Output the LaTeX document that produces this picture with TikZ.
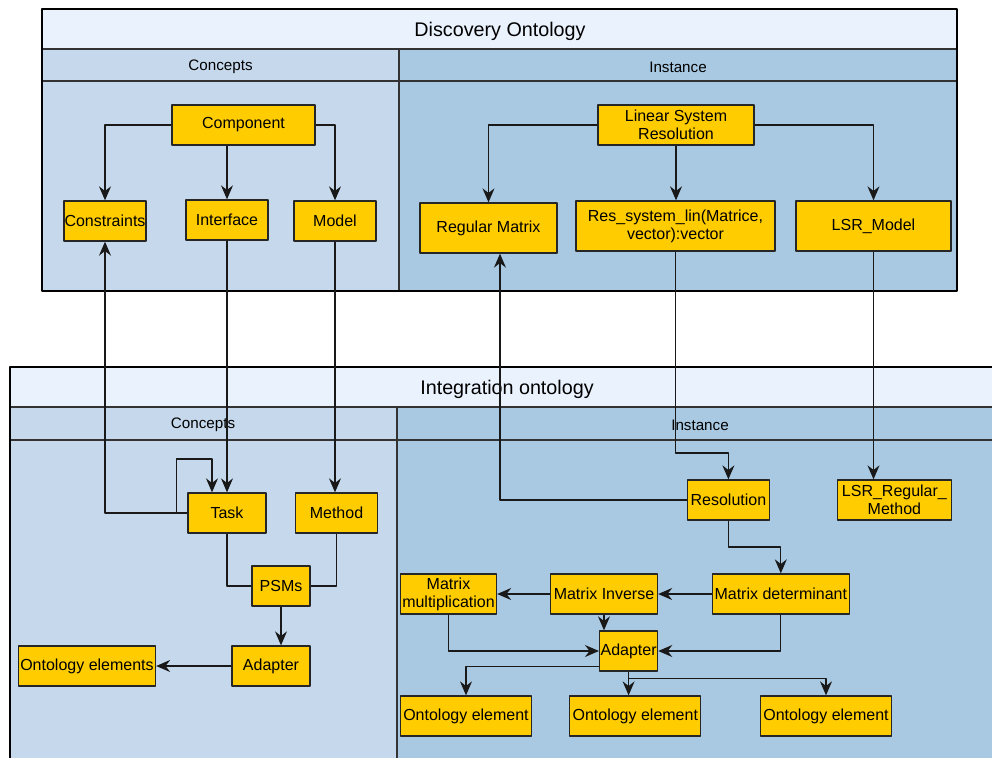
\documentclass[tikz,border=0pt]{standalone}
\usepackage{fontspec}
\setmainfont{Liberation Sans}
\usetikzlibrary{arrows.meta}
\definecolor{titlebg}{HTML}{EAF2FD}
\definecolor{conceptbg}{HTML}{C5D8EC}
\definecolor{instancebg}{HTML}{A9C8E2}
\definecolor{boxfill}{HTML}{FFCC00}
\begin{document}
\begin{tikzpicture}[x=0.75pt,y=-0.75pt, line join=round,
	box/.style={draw=black!85, fill=boxfill, line width=1pt, inner sep=0pt, align=center,
		font=\fontsize{12}{13.5}\selectfont, minimum height=30pt},
	wd/.style={minimum width=#1*0.75pt},
	ht/.style={minimum height=#1*0.75pt},
	link/.style={draw=black!90, line width=0.9pt, -{Stealth[length=10.5pt,width=9pt,inset=3.5pt]}},
	plain/.style={draw=black!90, line width=0.9pt},
	frame/.style={draw=black, line width=1.5pt},
	sep/.style={draw=black!80, line width=1pt},
	head/.style={font=\fontsize{11.4}{13}\selectfont},
	title/.style={font=\fontsize{14.8}{16}\selectfont}]
	\clip (0,0) rectangle (992,757);
	% discovery ontology
	\fill[titlebg] (42,9) rectangle (957,49);
	\fill[conceptbg] (42,49) rectangle (399,291);
	\fill[instancebg] (399,49) rectangle (957,291);
	\draw[sep] (42,49)--(957,49) (42,81)--(957,81) (399,49)--(399,291);
	\draw[frame] (42,9) rectangle (957,291);
	\node[title] (dtitle) at (500,31) {Discovery Ontology};
	\node[head] (dconc) at (220.5,67) {Concepts};
	\node[head] (dinst) at (678,67) {Instance};
	% integration ontology
	\fill[titlebg] (10,367) rectangle (1010,407);
	\fill[conceptbg] (10,407) rectangle (397,780);
	\fill[instancebg] (397,407) rectangle (1010,780);
	\draw[sep] (10,407)--(1010,407) (10,440)--(1010,440) (397,407)--(397,780);
	\draw[frame] (10,367) rectangle (1010,780);
	\node[title] (ititle) at (507,389) {Integration ontology};
	\node[head] (iconc) at (203,425) {Concepts};
	\node[head] (iinst) at (700,425) {Instance};
	% discovery nodes
	\node[box,wd=143] (comp) at (243.5,125) {Component};
	\node[box,wd=82] (cons) at (105,221) {Constraints};
	\node[box,wd=82] (intf) at (227,220) {Interface};
	\node[box,wd=82] (model) at (335,221) {Model};
	\node[box,wd=156] (lsr) at (676,125) {Linear System\\Resolution};
	\node[box,wd=137,ht=50] (regm) at (488.5,228) {Regular Matrix};
	\node[box,wd=199,ht=50] (ressys) at (675.5,226) {Res\_system\_lin(Matrice,\\vector):vector};
	\node[box,wd=155,ht=50] (lsrmod) at (873.5,226) {LSR\_Model};
	% integration nodes
	\node[box,wd=78] (task) at (227,513) {Task};
	\node[box,wd=82] (meth) at (336.5,513) {Method};
	\node[box,wd=58] (psm) at (281,586) {PSMs};
	\node[box,wd=78] (adpt) at (271,666) {Adapter};
	\node[box,wd=137] (oelts) at (87,666) {Ontology elements};
	\node[box,wd=82] (reso) at (728.4,500) {Resolution};
	\node[box,wd=114] (lsrreg) at (894.4,500) {LSR\_Regular\_\\Method};
	\node[box,wd=137] (mdet) at (780.8,594) {Matrix determinant};
	\node[box,wd=107] (minv) at (604,594) {Matrix Inverse};
	\node[box,wd=96] (mmul) at (448.5,594) {Matrix\\multiplication};
	\node[box,wd=58] (adpt2) at (628.6,651) {Adapter};
	\foreach \n/\x in {oe1/466,oe2/635.3,oe3/826}
		\node[box,wd=131] (\n) at (\x,716) {Ontology element};
	% connectors
	\draw[link] (comp.west) -| (cons.north);
	\draw[link] (intf |- comp.south) -- (intf.north);
	\draw[link] (comp.east) -| (model.north);
	\draw[link] (lsr.west) -| (regm.north);
	\draw[link] (lsr.south) -- (lsr.south |- ressys.north);
	\draw[link] (lsr.east) -| (lsrmod.north);
	\draw[link] (task.west) -| (cons.south);
	\draw[link] (task.west) -- ++(-11,0) -- ++(0,-54) -| ([xshift=-11.25pt]task.north);
	\draw[link] (intf.south) -- (task.north);
	\draw[link] (model.south) -- (model.south |- meth.north);
	\draw[plain] (task.south) |- (psm.west);
	\draw[plain] (meth.south) |- (psm.east);
	\draw[link] (psm.south) -- (psm.south |- adpt.north);
	\draw[link] (adpt.west) -- (oelts.east);
	\draw[link] (ressys.south) -- (ressys.south |- 0,453) -| (reso.north);
	\draw[link] (reso.west) -| ([xshift=8.6pt]regm.south);
	\draw[link] (lsrmod.south) -- (lsrmod.south |- lsrreg.north);
	\draw[link] (reso.south) -- (reso.south |- 0,547) -| (mdet.north);
	\draw[link] (mdet.west) -- (minv.east);
	\draw[link] (minv.west) -- (mmul.east);
	\draw[link] (minv.south) -- (minv.south |- adpt2.north);
	\draw[link] (mmul.south) |- (adpt2.west);
	\draw[link] (mdet.south) |- (adpt2.east);
	\draw[link] ([yshift=-11.5pt]adpt2.west) -| (oe1.north);
	\draw[link] (adpt2.south) -- (adpt2.south |- oe2.north);
	\draw[link] (adpt2.south) -- ++(0,7) -| (oe3.north);
\end{tikzpicture}
\end{document}
